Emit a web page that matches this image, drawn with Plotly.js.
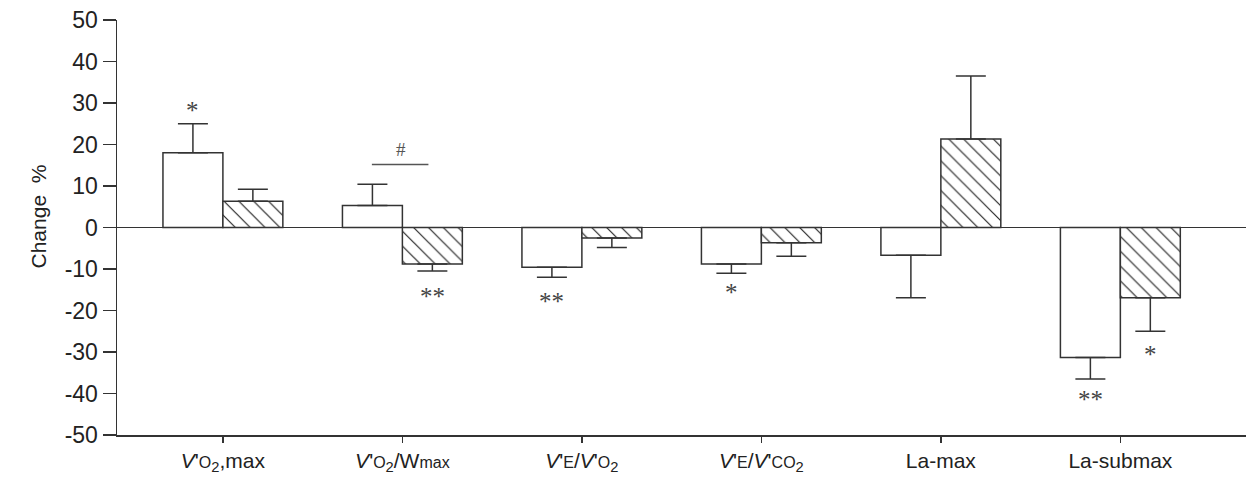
<!DOCTYPE html>
<html>
<head>
<meta charset="utf-8">
<script src="https://cdn.plot.ly/plotly-3.0.1.min.js"></script>
<style>html,body{margin:0;padding:0;background:#fff;}#chart{width:1246px;height:477px;}</style>
</head>
<body>
<div id="chart"></div>
<script>
var S = '<span style="font-size:16px">';
var E = '</span>';
var categories = [
  "<i>V</i>'" + S + "O" + E + "<sub>2</sub>,max",
  "<i>V</i>'" + S + "O" + E + "<sub>2</sub>/W" + S + "max" + E,
  "<i>V</i>'" + S + "E" + E + "/<i>V</i>'" + S + "O" + E + "<sub>2</sub>",
  "<i>V</i>'" + S + "E" + E + "/<i>V</i>'" + S + "CO" + E + "<sub>2</sub>",
  "La-max",
  "La-submax"
];
var whiteValues = [18, 5.3, -9.6, -8.8, -6.7, -31.3];
var whiteErrors = [7, 5.1, 2.4, 2.2, 10.2, 5.2];
var hatchValues = [6.3, -8.8, -2.5, -3.7, 21.3, -16.9];
var hatchErrors = [2.9, 1.7, 2.3, 3.2, 15.2, 8.1];
var yTicks = [-50, -40, -30, -20, -10, 0, 10, 20, 30, 40, 50];
var yTickText = ["-50", "-40", "-30", "-20", "-10", "0", "10", "20", "30", "40", "50"];

// significance marks: category index, bar side (-1 white, +1 hatched), y value, text
var markIndex = [0, 1, 2, 3, 5, 5];
var markSide = [-1, 1, -1, -1, -1, 1];
var markY = [28.2, -16.6, -17.8, -15.6, -41.4, -30.6];
var markText = ["*", "**", "**", "*", "**", "*"];

var ink = '#333';

function upErr(v, e) { return v.map(function (x, i) { return x >= 0 ? e[i] : 0; }); }
function downErr(v, e) { return v.map(function (x, i) { return x < 0 ? e[i] : 0; }); }

var xs = categories.map(function (c, i) { return i; });

var traceWhite = {
  type: 'bar', x: xs, y: whiteValues,
  marker: { color: '#fff', line: { color: ink, width: 1.5 } },
  error_y: { type: 'data', symmetric: false, array: upErr(whiteValues, whiteErrors),
    arrayminus: downErr(whiteValues, whiteErrors), color: ink, thickness: 1.5, width: 15 },
  hoverinfo: 'none'
};
var traceHatch = {
  type: 'bar', x: xs, y: hatchValues,
  marker: { color: '#fff', line: { color: ink, width: 1.5 },
    pattern: { shape: '\\', fgcolor: '#222', bgcolor: '#fff', size: 10.5, solidity: 0.11 } },
  error_y: { type: 'data', symmetric: false, array: upErr(hatchValues, hatchErrors),
    arrayminus: downErr(hatchValues, hatchErrors), color: ink, thickness: 1.5, width: 15 },
  hoverinfo: 'none'
};

var half = 0.167;
var annotations = markText.map(function (t, k) {
  return { x: markIndex[k] + markSide[k] * half, y: markY[k], xref: 'x', yref: 'y',
    text: t, showarrow: false, font: { family: 'Liberation Serif, Times New Roman, serif', size: 25, color: '#444' } };
});
annotations.push({ x: 0.99, y: 18.8, xref: 'x', yref: 'y', text: '#', showarrow: false,
  font: { family: 'Liberation Serif, Times New Roman, serif', size: 19, color: '#555' } });
annotations.push({ x: (24 - 117) / 1129, y: (435 - 217) / 415, xref: 'paper', yref: 'paper',
  text: 'Change  %', showarrow: false, textangle: -90, font: { size: 21, color: '#222' } });

var layout = {
  width: 1246, height: 477,
  margin: { l: 117, r: 0, t: 20, b: 42 },
  paper_bgcolor: '#fff', plot_bgcolor: '#fff',
  showlegend: false,
  barmode: 'group', bargap: 0.332, bargroupgap: 0,
  font: { family: 'Liberation Sans, Arial, sans-serif', color: '#222', size: 20 },
  xaxis: {
    range: [-0.59, 5.70], tickmode: 'array', tickvals: xs, ticktext: categories,
    showgrid: false, zeroline: false, showline: true, linecolor: ink, linewidth: 1.5,
    ticks: 'outside', ticklen: 6, tickwidth: 1.5, tickcolor: ink,
    tickfont: { size: 21, color: '#222' }
  },
  yaxis: {
    range: [-50, 50], tickmode: 'array', tickvals: yTicks, ticktext: yTickText,
    showgrid: false, zeroline: true, zerolinecolor: ink, zerolinewidth: 1.5,
    showline: true, linecolor: ink, linewidth: 1.5,
    ticks: 'outside', ticklen: 13, tickwidth: 1.5, tickcolor: ink,
    tickfont: { size: 23, color: '#222' }
  },
  shapes: [
    { type: 'line', xref: 'x', yref: 'y', x0: 0.83, x1: 1.145, y0: 15.2, y1: 15.2,
      line: { color: '#555', width: 1.5 } }
  ],
  annotations: annotations
};

Plotly.newPlot('chart', [traceWhite, traceHatch], layout, { displayModeBar: false, staticPlot: true });
</script>
</body>
</html>
